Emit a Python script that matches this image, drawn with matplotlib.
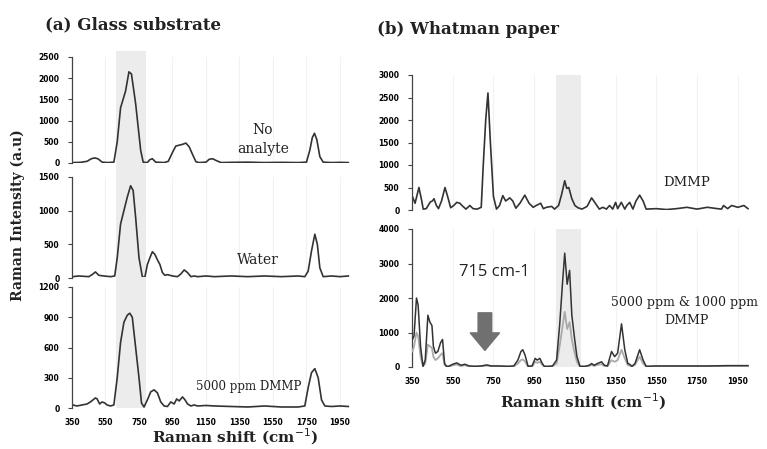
import matplotlib
matplotlib.use("Agg")
import matplotlib.pyplot as plt
from matplotlib.patches import FancyArrowPatch

# ---------------- data ----------------
xticks = [350, 550, 750, 950, 1150, 1350, 1550, 1750, 1950]

glass_none_x = [355, 400, 440, 465, 485, 505, 530, 560, 600, 620, 640, 655, 670, 690, 705, 730, 760, 775,
                800, 815, 830, 850, 900, 925, 950, 970, 990, 1010, 1030, 1050, 1070, 1090, 1110, 1150, 1170,
                1190, 1210, 1240, 1300, 1400, 1500, 1600, 1700, 1750, 1770, 1785, 1798, 1812, 1830, 1850,
                1900, 1950, 2000]
glass_none_y = [10, 15, 40, 100, 120, 100, 20, 10, 20, 500, 1300, 1500, 1700, 2150, 2100, 1400, 300, 20,
                10, 80, 100, 20, 10, 40, 250, 400, 420, 440, 470, 380, 200, 30, 10, 20, 90,
                100, 60, 10, 15, 20, 10, 15, 10, 20, 300, 600, 700, 550, 150, 20,
                10, 15, 10]

glass_water_x = [355, 390, 420, 450, 470, 490, 510, 540, 580, 605, 620, 640, 660, 680, 700, 715, 730, 750, 770,
                 785, 800, 815, 830, 845, 860, 875, 890, 905, 920, 950, 980, 1000, 1020, 1040, 1060, 1080,
                 1100, 1150, 1200, 1300, 1400, 1500, 1600, 1700, 1740, 1760, 1780, 1800, 1815, 1830, 1850,
                 1900, 1950, 2000]
glass_water_y = [20, 30, 25, 20, 50, 90, 40, 30, 20, 30, 300, 800, 1000, 1200, 1370, 1300, 900, 300, 20,
                 10, 200, 300, 390, 350, 270, 200, 80, 40, 50, 30, 20, 60, 120, 80, 20, 30,
                 20, 30, 20, 30, 20, 30, 20, 30, 20, 100, 400, 650, 500, 150, 20,
                 30, 20, 30]

glass_dmmp_x = [355, 380, 410, 440, 460, 475, 490, 500, 515, 530, 545, 560, 580, 600, 620, 640, 660, 680, 695,
                710, 730, 750, 765, 780, 800, 820, 840, 860, 880, 900, 920, 940, 960, 975, 990, 1010, 1025,
                1040, 1060, 1080, 1100, 1150, 1200, 1300, 1400, 1500, 1600, 1700, 1740, 1760, 1780, 1800,
                1820, 1840, 1860, 1900, 1950, 2000]
glass_dmmp_y = [30, 20, 30, 40, 60, 80, 100, 90, 40, 60, 50, 30, 20, 30, 300, 650, 850, 920, 940,
                900, 600, 300, 50, 10, 80, 160, 180, 150, 60, 20, 15, 60, 40, 90, 70, 110, 80,
                40, 20, 30, 20, 25, 20, 15, 10, 20, 10, 10, 20, 200, 350, 390,
                300, 80, 20, 15, 20, 15]

paper_dmmp_x = [352, 365, 384, 398, 405, 420, 440, 450, 458, 470, 480, 495, 512, 525, 540, 555, 570, 585, 600,
                615, 634, 650, 670, 690, 700, 712, 723, 735, 750, 765, 780, 796, 810, 830, 845, 860, 880,
                904, 925, 945, 960, 982, 995, 1010, 1036, 1050, 1070, 1085, 1100, 1110, 1120, 1135, 1150,
                1165, 1185, 1210, 1232, 1255, 1270, 1287, 1305, 1320, 1336, 1350, 1360, 1378, 1395, 1405,
                1419, 1435, 1450, 1468, 1485, 1500, 1550, 1600, 1650, 1700, 1750, 1800, 1850, 1870, 1880,
                1900, 1920, 1950, 1980, 2000]
paper_dmmp_y = [300, 150, 500, 200, 20, 30, 180, 200, 250, 100, 30, 200, 500, 300, 50, 100, 170, 150, 80,
                20, 100, 30, 20, 60, 1000, 2000, 2600, 1500, 300, 20, 100, 320, 200, 270, 200, 40, 150,
                330, 150, 60, 100, 150, 30, 60, 80, 20, 100, 350, 650, 480, 500, 250, 100,
                50, 20, 80, 270, 120, 20, 60, 20, 100, 20, 170, 30, 170, 20, 100,
                170, 20, 200, 330, 200, 20, 30, 10, 30, 60, 20, 60, 30, 20, 100,
                30, 100, 60, 100, 30]

paper_mix_x = [352, 360, 372, 380, 392, 404, 415, 428, 438, 448, 455, 465, 477, 490, 500, 510, 520, 530, 550,
               570, 590, 610, 630, 660, 690, 717, 740, 780, 820, 850, 870, 885, 894, 905, 920, 940, 955, 965,
               978, 990, 1000, 1020, 1040, 1060, 1075, 1090, 1100, 1112, 1124, 1135, 1149, 1160, 1175,
               1200, 1220, 1232, 1245, 1260, 1281, 1295, 1310, 1330, 1345, 1360, 1379, 1395, 1410, 1419,
               1430, 1445, 1468, 1485, 1500, 1550, 1600, 1700, 1800, 1900, 2000]
paper_5000_y = [800, 900, 2000, 1800, 600, 20, 200, 1500, 1300, 1200, 600, 400, 450, 700, 800, 100, 20, 20, 80,
                120, 50, 80, 30, 20, 30, 60, 30, 30, 20, 30, 200, 450, 500, 350, 20, 30, 250, 200,
                250, 100, 20, 20, 30, 200, 1200, 2500, 3300, 2400, 2800, 1500, 800, 300, 20,
                20, 50, 100, 50, 100, 150, 50, 30, 450, 300, 400, 1250, 500, 100, 80,
                20, 100, 500, 200, 20, 30, 30, 30, 30, 40, 40]
paper_1000_y = [450, 600, 1000, 900, 300, 20, 100, 650, 600, 550, 300, 200, 250, 350, 400, 60, 10, 10, 50,
                70, 30, 50, 20, 10, 20, 40, 20, 20, 10, 20, 100, 200, 220, 160, 10, 20, 150, 120,
                150, 60, 10, 10, 20, 100, 600, 1200, 1600, 1100, 1300, 800, 400, 150, 10,
                10, 30, 60, 30, 60, 80, 30, 20, 200, 150, 200, 500, 250, 50, 40,
                10, 60, 300, 100, 10, 20, 20, 20, 20, 30, 30]

# ---------------- figure ----------------
W, H = 767, 449
fig = plt.figure(figsize=(W / 100, H / 100), dpi=100)
fig.patch.set_facecolor("white")

serif = ["DejaVu Serif"]
tickfont = dict(family="DejaVu Sans", weight="bold", size=5.5)
dark = "#333333"
light = "#aaaaaa"
band = "#ececec"


def px_axes(x0, x1, ytop, ybot):
    return fig.add_axes([x0 / W, 1 - ybot / H, (x1 - x0) / W, (ybot - ytop) / H])


def style(ax, yt, ymax, show_x, band_rng, band_ext=0.0):
    ax.set_xlim(350, 2010)
    ax.set_ylim(0, ymax)
    for s in ["top", "right", "bottom"]:
        ax.spines[s].set_visible(False)
    ax.spines["left"].set_color("#444444")
    ax.spines["left"].set_linewidth(0.9)
    ax.set_yticks(yt)
    ax.set_yticklabels([str(v) for v in yt], fontdict=tickfont)
    ax.tick_params(axis="y", length=3, width=0.8, color="#444444", pad=6)
    ax.set_xticks(xticks)
    if show_x:
        ax.set_xticklabels([str(v) for v in xticks], fontdict=tickfont)
    else:
        ax.set_xticklabels([])
    ax.tick_params(axis="x", length=0, pad=7)
    for t in xticks[1:]:
        ax.axvline(t, color="#f2f2f2", lw=0.8, zorder=0)
    ax.axvspan(band_rng[0], band_rng[1], ymin=0, ymax=1 + band_ext, color=band, zorder=0,
               clip_on=False, lw=0)


# Left panel
L0, L1 = 72, 350
ax1 = px_axes(L0, L1, 57, 163)
ax2 = px_axes(L0, L1, 177, 278)
ax3 = px_axes(L0, L1, 287, 408)
style(ax1, [0, 500, 1000, 1500, 2000, 2500], 2500, False, (610, 790), 0.06)
style(ax2, [0, 500, 1000, 1500], 1500, False, (610, 790), 0.14)
style(ax3, [0, 300, 600, 900, 1200], 1200, True, (610, 790), 0.08)
ax1.plot(glass_none_x, glass_none_y, color=dark, lw=1.2)
ax2.plot(glass_water_x, glass_water_y, color=dark, lw=1.2)
ax3.plot(glass_dmmp_x, glass_dmmp_y, color=dark, lw=1.2)

ax1.text(1490, 780, "No", family=serif, fontsize=10, ha="center", va="center", color="#222222")
ax1.text(1490, 330, "analyte", family=serif, fontsize=10, ha="center", va="center", color="#222222")
ax2.text(1460, 270, "Water", family=serif, fontsize=10, ha="center", va="center", color="#222222")
ax3.text(1405, 210, "5000 ppm DMMP", family=serif, fontsize=8.5, ha="center", va="center", color="#222222")

# Right panel
R0, R1 = 412, 750
ax4 = px_axes(R0, R1, 75, 210)
ax5 = px_axes(R0, R1, 229, 367)
style(ax4, [0, 500, 1000, 1500, 2000, 2500, 3000], 3000, False, (1055, 1180), 0.0)
style(ax5, [0, 1000, 2000, 3000, 4000], 4000, True, (1055, 1180), 0.0)
ax4.plot(paper_dmmp_x, paper_dmmp_y, color=dark, lw=1.2)
ax5.plot(paper_mix_x, paper_1000_y, color=light, lw=1.3, zorder=3)
ax5.plot(paper_mix_x, paper_5000_y, color=dark, lw=1.1, zorder=4)

ax4.text(1700, 600, "DMMP", family=serif, fontsize=9.5, ha="center", va="center", color="#222222")
ax5.text(1690, 1880, "5000 ppm & 1000 ppm", family=serif, fontsize=9, ha="center", va="center",
         color="#222222", clip_on=False)
ax5.text(1700, 1360, "DMMP", family=serif, fontsize=9, ha="center", va="center", color="#222222")
ax5.text(752, 2750, "715 cm-1", family=["Open Sans"], fontsize=12, ha="center", va="center",
         color="#222222")
arrow = FancyArrowPatch((708, 1650), (708, 400), arrowstyle="simple,head_width=1.5,head_length=0.9,tail_width=0.7",
                        mutation_scale=14, color="#707070", zorder=5)
ax5.add_patch(arrow)

# Titles and labels
fig.text(45 / W, 1 - 25 / H, "(a) Glass substrate", family=serif, weight="bold", fontsize=12,
         ha="left", va="center", color="#222222")
fig.text(377 / W, 1 - 30 / H, "(b) Whatman paper", family=serif, weight="bold", fontsize=12,
         ha="left", va="center", color="#222222")
fig.text(18 / W, 1 - 215 / H, "Raman Intensity (a.u)", family=serif, weight="bold", fontsize=10,
         rotation=90, ha="center", va="center", color="#222222")
fig.text(235 / W, 1 - 437 / H, "Raman shift (cm$^{-1}$)", family=serif, weight="bold", fontsize=11,
         ha="center", va="center", color="#222222")
fig.text(583 / W, 1 - 402 / H, "Raman shift (cm$^{-1}$)", family=serif, weight="bold", fontsize=11,
         ha="center", va="center", color="#222222")

fig.savefig("out.png", dpi=100, facecolor="white")
